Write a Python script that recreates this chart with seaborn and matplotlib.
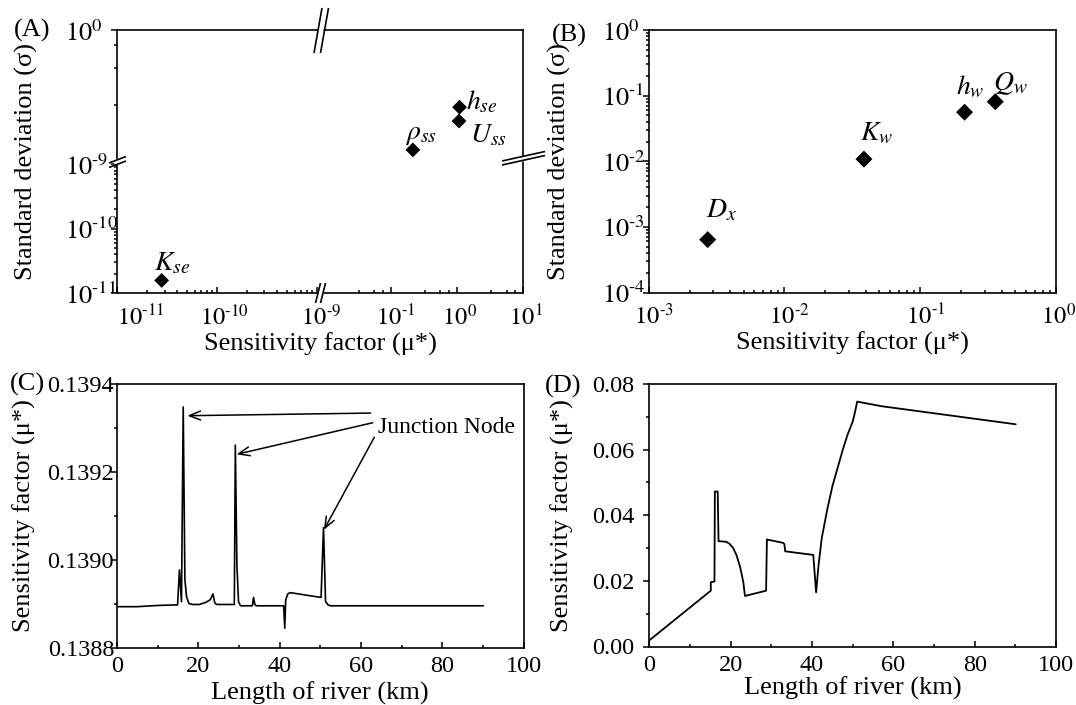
import numpy as np
import pandas as pd
import matplotlib
matplotlib.use("Agg")
import matplotlib.pyplot as plt
import seaborn as sns
from matplotlib.ticker import FixedLocator, FixedFormatter, NullFormatter, MultipleLocator, FormatStrFormatter
from matplotlib.lines import Line2D
from matplotlib.font_manager import FontProperties
from matplotlib.mathtext import MathTextParser

# ---------------- data ----------------
a_names = [r"$K_{se}$", r"$\rho_{ss}$", r"$h_{se}$", r"$U_{ss}$"]
a_mu = [2.8e-11, 0.215, 1.09, 1.07]
a_sigma = [1.58e-11, 0.0139, 0.064, 0.039]

b_names = [r"$D_x$", r"$K_w$", r"$h_w$", r"$Q_w$"]
b_mu = [2.72e-3, 0.0385, 0.212, 0.357]
b_sigma = [6.4e-4, 0.0108, 0.056, 0.081]

c_km = [0, 5, 10.5, 14.9, 15.36, 15.86, 16.29, 16.7, 17.1, 17.7, 18.6, 20.25, 21.9, 22.95,
        23.6, 24.05, 24.5, 28.86, 29.11, 29.5, 29.9, 30.4, 33.3, 33.6, 33.9, 34.3, 41.0,
        41.27, 41.5, 42.0, 42.6, 50.2, 50.8, 51.3, 51.9, 52.5, 62.4, 90.1]
c_mu = [0.138893, 0.138893, 0.138896, 0.138897, 0.138977, 0.138904, 0.139348, 0.138955,
        0.138916, 0.138900, 0.138898, 0.138898, 0.138903, 0.138909, 0.138922, 0.138902,
        0.138898, 0.138898, 0.139261, 0.138986, 0.138904, 0.138895, 0.138895, 0.138914,
        0.138898, 0.138895, 0.138895, 0.138844, 0.138908, 0.138922, 0.138925, 0.138914,
        0.139073, 0.138905, 0.138897, 0.138895, 0.138895, 0.138895]

d_km = [0, 15.1, 15.1, 16.0, 16.1, 16.8, 17.0, 18.9, 19.7, 20.6, 21.4, 22.3, 23.1, 23.5,
        28.7, 28.9, 32.8, 33.2, 33.4, 40.3, 41.0, 41.6, 42.4, 43.7, 45.0, 46.2, 47.5,
        48.7, 50.0, 50.6, 51.1, 57.1, 90.1]
d_mu = [0.0019, 0.0170, 0.0196, 0.0198, 0.0472, 0.0472, 0.0321, 0.0319, 0.0313, 0.0300,
        0.0279, 0.0243, 0.0196, 0.0154, 0.0170, 0.0326, 0.0316, 0.0312, 0.0290, 0.0279,
        0.0165, 0.0248, 0.0331, 0.0415, 0.0488, 0.0540, 0.0597, 0.0644, 0.0685, 0.0716,
        0.0746, 0.0732, 0.0677]

junction_text = "Junction Node"

# ---------------- style ----------------
W, H = 1076, 705
sns.set_theme(style="ticks", rc={"axes.edgecolor": "black", "xtick.color": "black",
                                 "ytick.color": "black", "text.color": "black",
                                 "axes.labelcolor": "black"})
plt.rcParams["font.family"] = ["Liberation Serif", "DejaVu Serif"]
plt.rcParams["mathtext.fontset"] = "stix"
plt.rcParams["axes.linewidth"] = 1.2

TICK_FS = 17.5
XMATH_FS = 17.5
YMATH_FS = 19
LAB_FS = 19
ANN_FS = 20

# short hyphen in exponents (as in the reference), if mathtext supports \text
_mp = MathTextParser("path")
_prop = FontProperties(size=XMATH_FS)
try:
    _mp.parse(r"$10^{\text{-}1}$", 72, _prop)
    HY = r"\text{-}"
except Exception:
    HY = "-"


def pow10(e):
    s = str(e) if e >= 0 else HY + str(-e)
    return r"$10^{" + s + "}$"


def pow10_shifted(e, frac=0.7):
    """Exponent label whose base '10' sits (nearly) centred on the tick."""
    lab = pow10(e)
    try:
        full = _mp.parse(lab, 72, _prop).width
        base = _mp.parse(r"$10$", 72, _prop).width
        unit = _mp.parse(r"$\hspace{1}$", 72, _prop).width
        w = frac * (full - base) / unit
        return r"$\hspace{%.3f}" % w + lab[1:]
    except Exception:
        return lab


fig = plt.figure(figsize=(W / 100, H / 100), dpi=100)


def box(l, t, r, b):
    return [l / W, 1 - b / H, (r - l) / W, (b - t) / H]


axA = fig.add_axes(box(117.0, 30.3, 523.3, 293.2))
axB = fig.add_axes(box(648.7, 30.1, 1056.0, 292.5))
axC = fig.add_axes(box(117.0, 384.1, 523.5, 647.5))
axD = fig.add_axes(box(649.4, 383.9, 1056.0, 646.5))


def style_ticks(ax, ypad, xfs, yfs, xpad=6):
    ax.tick_params(axis="x", which="both", direction="in", top=False, bottom=True,
                   labelsize=xfs, width=1.1, pad=xpad)
    ax.tick_params(axis="y", which="both", direction="out", right=False, left=True,
                   labelsize=yfs, width=1.1, pad=ypad)
    ax.tick_params(which="major", length=4)
    ax.tick_params(which="minor", length=2.4)


# ---------------- panel A: broken log axes ----------------
def ax_fwd(v):
    l = np.log10(np.clip(np.asarray(v, dtype=float), 1e-300, None))
    return np.where(l <= -9, (l + 11) * 99.8,
                    np.where(l <= -2, 199.6 + (l + 9) * 8 / 7, 207.6 + (l + 2) * 66.2))


def ax_inv(u):
    u = np.asarray(u, dtype=float)
    l = np.where(u <= 199.6, u / 99.8 - 11,
                 np.where(u <= 207.6, (u - 199.6) * 7 / 8 - 9, (u - 207.6) / 66.2 - 2))
    return 10.0 ** l


def ay_fwd(v):
    l = np.log10(np.clip(np.asarray(v, dtype=float), 1e-300, None))
    return np.where(l <= -9, l + 11,
                    np.where(l <= -2, 2 + (l + 9) * 0.082 / 7, 2.082 + (l + 2)))


def ay_inv(u):
    u = np.asarray(u, dtype=float)
    l = np.where(u <= 2, u - 11,
                 np.where(u <= 2.082, (u - 2) * 7 / 0.082 - 9, (u - 2.082) - 2))
    return 10.0 ** l


axA.set_xscale("function", functions=(ax_fwd, ax_inv))
axA.set_yscale("function", functions=(ay_fwd, ay_inv))
sns.scatterplot(x=a_mu, y=a_sigma, ax=axA, marker="D", s=57, color="black",
                edgecolor="none", linewidth=0, legend=False)
axA.set_xlim(1e-11, 10)
axA.set_ylim(1e-11, 1)

xa_exp = [-11, -10, -9, -1, 0, 1]
xa_minor = [k * d for d in (1e-11, 1e-10) for k in range(2, 10)] + \
           [k * d for d in (1e-2, 1e-1, 1e0) for k in (3.3, 5.6, 7.5)]
xa_labels = [pow10(xa_exp[0])] + [pow10_shifted(e) for e in xa_exp[1:]]
axA.xaxis.set_major_locator(FixedLocator([10.0 ** e for e in xa_exp]))
axA.xaxis.set_major_formatter(FixedFormatter(xa_labels))
axA.xaxis.set_minor_locator(FixedLocator(xa_minor))
axA.xaxis.set_minor_formatter(NullFormatter())

ya_exp = [-11, -10, -9, 0]
ya_minor = [k * d for d in (1e-11, 1e-10) for k in range(2, 10)] + [0.069, 0.26, 0.59]
axA.yaxis.set_major_locator(FixedLocator([10.0 ** e for e in ya_exp]))
axA.yaxis.set_major_formatter(FixedFormatter([pow10(e) for e in ya_exp]))
axA.yaxis.set_minor_locator(FixedLocator(ya_minor))
axA.yaxis.set_minor_formatter(NullFormatter())
style_ticks(axA, 33.5, XMATH_FS, YMATH_FS, xpad=8)
for t in axA.get_yticklabels():
    t.set_ha("left")
axA.get_xticklabels()[0].set_ha("left")

a_off = [(-7.5, 9.7), (-7.6, 11.0), (6.2, -2.1), (11.4, -21.3)]
for name, x, y, off in zip(a_names, a_mu, a_sigma, a_off):
    axA.annotate(name, (x, y), xytext=off, textcoords="offset pixels",
                 ha="left", va="baseline", fontsize=ANN_FS)

# ---------------- panel B ----------------
axB.set_xscale("log")
axB.set_yscale("log")
sns.scatterplot(x=b_mu, y=b_sigma, ax=axB, marker="D", s=75, color="black",
                edgecolor="none", linewidth=0, legend=False)
axB.set_xlim(1e-3, 1)
axB.set_ylim(1e-4, 1)
xb_exp = [-3, -2, -1, 0]
yb_exp = [-4, -3, -2, -1, 0]
axB.xaxis.set_major_locator(FixedLocator([10.0 ** e for e in xb_exp]))
axB.xaxis.set_major_formatter(FixedFormatter([pow10_shifted(e) for e in xb_exp]))
axB.xaxis.set_minor_locator(FixedLocator([k * d for d in (1e-3, 1e-2, 1e-1) for k in range(2, 10)]))
axB.xaxis.set_minor_formatter(NullFormatter())
axB.yaxis.set_major_locator(FixedLocator([10.0 ** e for e in yb_exp]))
axB.yaxis.set_major_formatter(FixedFormatter([pow10(e) for e in yb_exp]))
axB.yaxis.set_minor_locator(FixedLocator([k * d for d in (1e-4, 1e-3, 1e-2, 1e-1) for k in range(2, 10)]))
axB.yaxis.set_minor_formatter(NullFormatter())
style_ticks(axB, 29.5, XMATH_FS, YMATH_FS, xpad=8)
for t in axB.get_yticklabels():
    t.set_ha("left")

b_off = [(-1.7, 22.2), (-4.1, 18.8), (-8.9, 18.1), (-2.7, 11.9)]
for name, x, y, off in zip(b_names, b_mu, b_sigma, b_off):
    axB.annotate(name, (x, y), xytext=off, textcoords="offset pixels",
                 ha="left", va="baseline", fontsize=ANN_FS)

# ---------------- panel C ----------------
sns.lineplot(x=c_km, y=c_mu, ax=axC, color="black", linewidth=1.2,
             estimator=None, sort=False)
axC.set_xlim(0, 100)
axC.set_ylim(0.1388, 0.1394)
axC.xaxis.set_major_locator(MultipleLocator(20))
axC.xaxis.set_minor_locator(MultipleLocator(10))
axC.yaxis.set_major_locator(MultipleLocator(0.0002))
axC.yaxis.set_minor_locator(MultipleLocator(0.0001))
axC.yaxis.set_major_formatter(FormatStrFormatter("%.4f"))
style_ticks(axC, -1.9, TICK_FS, TICK_FS)

axC.text(64.1, 0.139302, junction_text, fontsize=17, ha="left", va="center")
arrows = [((62.4, 0.139334), (17.3, 0.139328)),
          ((62.9, 0.139312), (29.4, 0.139240)),
          ((63.3, 0.139279), (50.9, 0.139068))]
for tail, head in arrows:
    axC.annotate("", xy=head, xytext=tail,
                 arrowprops=dict(arrowstyle="->,head_length=0.8,head_width=0.32",
                                 lw=1.1, color="black", mutation_scale=10,
                                 shrinkA=0, shrinkB=0))

# ---------------- panel D ----------------
sns.lineplot(x=d_km, y=d_mu, ax=axD, color="black", linewidth=1.3,
             estimator=None, sort=False)
axD.set_xlim(0, 100)
axD.set_ylim(0, 0.08)
axD.xaxis.set_major_locator(MultipleLocator(20))
axD.xaxis.set_minor_locator(MultipleLocator(10))
axD.yaxis.set_major_locator(MultipleLocator(0.02))
axD.yaxis.set_minor_locator(MultipleLocator(0.01))
axD.yaxis.set_major_formatter(FormatStrFormatter("%.2f"))
style_ticks(axD, 6.8, TICK_FS, TICK_FS)

# ---------------- labels ----------------
for ax, yl, xl, ylx, xly in [
    (axA, "Standard deviation (σ)", "Sensitivity factor (μ*)", -0.194, -0.148),
    (axB, "Standard deviation (σ)", "Sensitivity factor (μ*)", -0.191, -0.148),
    (axC, "Sensitivity factor (μ*)", "Length of river (km)", -0.199, -0.13),
    (axD, "Sensitivity factor (μ*)", "Length of river (km)", -0.185, -0.115),
]:
    ax.set_ylabel(yl, fontsize=LAB_FS)
    ax.set_xlabel(xl, fontsize=LAB_FS)
    ax.yaxis.set_label_coords(ylx, 0.5)
    ax.xaxis.set_label_coords(0.5, xly)
    for s in ax.spines.values():
        s.set_linewidth(1.2)
        s.set_color("black")

for txt, px, py in [("(A)", 13.8, 30), ("(B)", 552, 35), ("(C)", 9.6, 384), ("(D)", 545, 386)]:
    fig.text(px / W, 1 - py / H, txt, fontsize=LAB_FS, ha="left", va="center")


# ---------------- axis-break marks on panel A ----------------
def seg(x0, y0, x1, y1, color="black", lw=1.2, z=5):
    fig.add_artist(Line2D([x0 / W, x1 / W], [1 - y0 / H, 1 - y1 / H],
                          transform=fig.transFigure, color=color, lw=lw, zorder=z,
                          solid_capstyle="butt"))


# top spine
seg(318.5, 36, 322.5, 24, color="white", lw=4, z=4)
seg(314, 53, 322, 8)
seg(320.5, 53, 328.5, 8)
# bottom spine
seg(319.5, 298, 322.5, 288, color="white", lw=3.5, z=4)
seg(315.5, 303, 320.5, 283)
seg(320.5, 303, 325.5, 283)
# left spine
seg(114, 162.5, 120, 160.5, color="white", lw=3.5, z=4)
seg(109, 163, 126, 156.5)
seg(109, 167.5, 126, 161)
# right spine
seg(516, 160.5, 531, 157, color="white", lw=3.5, z=4)
seg(502, 165, 545, 155.5)
seg(502, 161, 545, 151.5)

fig.savefig("out.png", dpi=100)
